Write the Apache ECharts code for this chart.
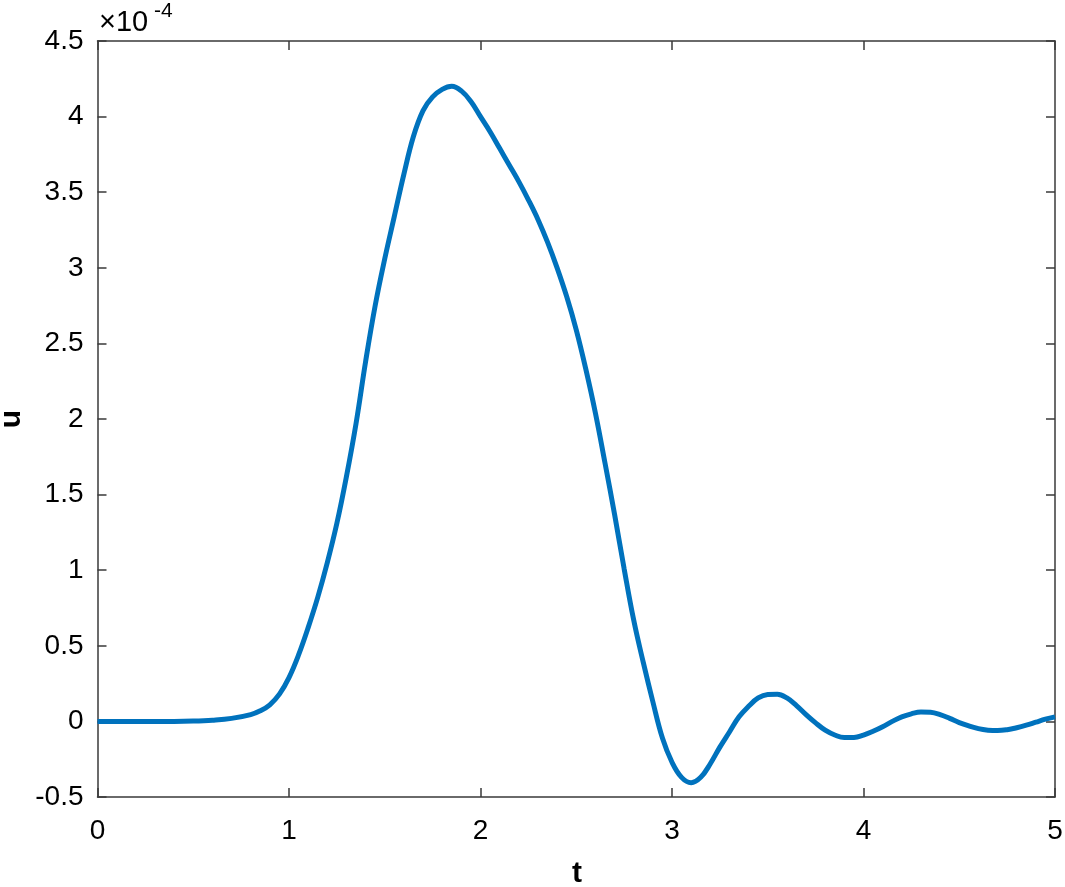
<!DOCTYPE html>
<html>
<head>
<meta charset="utf-8">
<script src="https://cdn.jsdelivr.net/npm/echarts@6/dist/echarts.min.js"></script>
<style>
html,body{margin:0;padding:0;background:#fff;}
#chart{width:1065px;height:887px;}
</style>
</head>
<body>
<div id="chart"></div>
<script>
// time values (t)
var tValues = [0,0.1,0.2,0.3,0.4,0.5,0.6,0.7,0.8,0.85,0.9,0.95,1.0,1.05,1.1,1.15,1.2,1.25,1.3,1.35,1.4,1.45,1.5,1.55,1.6,1.65,1.7,1.75,1.8,1.85,1.9,1.95,2.0,2.05,2.1,2.15,2.2,2.25,2.3,2.35,2.4,2.45,2.5,2.55,2.6,2.65,2.7,2.75,2.8,2.85,2.9,2.95,3.0,3.05,3.1,3.15,3.2,3.25,3.3,3.35,3.4,3.45,3.5,3.55,3.6,3.65,3.7,3.75,3.8,3.85,3.9,3.95,4.0,4.05,4.1,4.15,4.2,4.25,4.3,4.35,4.4,4.45,4.5,4.55,4.6,4.65,4.7,4.75,4.8,4.85,4.9,4.95,5.0];
// u values in units of 1e-4
var uValues = [0,0,0,0,0,0.002,0.008,0.02,0.045,0.07,0.11,0.18,0.29,0.44,0.62,0.82,1.05,1.31,1.62,1.97,2.38,2.75,3.06,3.34,3.62,3.87,4.04,4.13,4.18,4.20,4.17,4.10,4.00,3.90,3.79,3.68,3.57,3.45,3.32,3.17,3.00,2.81,2.59,2.33,2.04,1.71,1.37,1.01,0.67,0.39,0.13,-0.11,-0.27,-0.37,-0.405,-0.37,-0.28,-0.17,-0.07,0.03,0.10,0.155,0.178,0.18,0.155,0.105,0.045,-0.01,-0.058,-0.09,-0.107,-0.106,-0.09,-0.065,-0.035,0.0,0.03,0.05,0.062,0.06,0.045,0.02,-0.008,-0.03,-0.048,-0.058,-0.061,-0.055,-0.042,-0.025,-0.005,0.015,0.03];
var xTicks = [0,1,2,3,4,5];
var yTicks = [-0.5,0,0.5,1,1.5,2,2.5,3,3.5,4,4.5];
var xName = 't';
var yName = 'u';
var exponentBase = '\u00d710';
var exponentPower = '-4';

var seriesData = tValues.map(function(t,i){return [t,uValues[i]];});
var FONT = 'Liberation Sans, Arial, Helvetica, sans-serif';
var axisColor = '#3a3a3a';
var labelStyle = {color:'#000', fontSize:28, fontFamily:FONT};

var chart = echarts.init(document.getElementById('chart'), null, {renderer:'canvas'});
chart.setOption({
  animation:false,
  backgroundColor:'#fff',
  grid:{left:97.5, right:10, top:41, bottom:90, containLabel:false, outerBoundsMode:'none'},
  xAxis:[{
    type:'value', min:xTicks[0], max:xTicks[xTicks.length-1], interval:1,
    position:'bottom',
    axisLine:{show:true, onZero:false, lineStyle:{color:axisColor, width:1.5}},
    axisTick:{show:true, inside:true, length:9, lineStyle:{color:axisColor, width:1.5}},
    axisLabel:Object.assign({margin:20}, labelStyle),
    splitLine:{show:false}
  },{
    type:'value', min:xTicks[0], max:xTicks[xTicks.length-1], interval:1,
    position:'top',
    axisLine:{show:true, onZero:false, lineStyle:{color:axisColor, width:1.5}},
    axisTick:{show:true, inside:true, length:9, lineStyle:{color:axisColor, width:1.5}},
    axisLabel:{show:false},
    splitLine:{show:false}
  }],
  yAxis:[{
    type:'value', min:yTicks[0], max:yTicks[yTicks.length-1], interval:0.5,
    position:'left',
    axisLine:{show:true, onZero:false, lineStyle:{color:axisColor, width:1.5}},
    axisTick:{show:true, inside:true, length:9, lineStyle:{color:axisColor, width:1.5}},
    axisLabel:Object.assign({margin:14}, labelStyle),
    splitLine:{show:false}
  },{
    type:'value', min:yTicks[0], max:yTicks[yTicks.length-1], interval:0.5,
    position:'right',
    axisLine:{show:true, onZero:false, lineStyle:{color:axisColor, width:1.5}},
    axisTick:{show:true, inside:true, length:9, lineStyle:{color:axisColor, width:1.5}},
    axisLabel:{show:false},
    splitLine:{show:false}
  }],
  graphic:[
    {type:'text', left:99, top:8, style:{text:exponentBase, fill:'#000', font:'29px '+FONT}},
    {type:'text', left:154, top:1, style:{text:exponentPower, fill:'#000', font:'21px '+FONT}},
    {type:'text', x:577, y:874, style:{text:xName, fill:'#000', font:'bold 30px '+FONT, align:'center', verticalAlign:'middle'}},
    {type:'text', x:12, y:419, rotation:Math.PI/2, style:{text:yName, fill:'#000', font:'bold 30px '+FONT, align:'center', verticalAlign:'middle'}}
  ],
  series:[{
    type:'line', data:seriesData, xAxisIndex:0, yAxisIndex:0,
    smooth:0.4, showSymbol:false, symbol:'none',
    lineStyle:{color:'#0072BD', width:5},
    clip:true
  }]
});
</script>
</body>
</html>
